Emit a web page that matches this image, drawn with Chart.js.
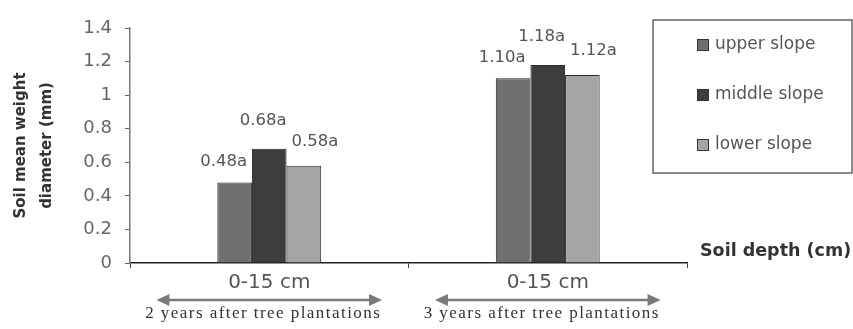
<!DOCTYPE html>
<html>
<head>
<meta charset="utf-8">
<script src="https://cdn.jsdelivr.net/npm/chart.js@4/dist/chart.umd.min.js"></script>
<style>
  html, body { margin: 0; padding: 0; background: #fff; }
  #wrap { width: 853px; height: 329px; position: relative; }
</style>
</head>
<body>
<div id="wrap"><canvas id="mwdChart"></canvas></div>
<script>
// Soil mean weight diameter by slope position
const depthLabels = ['0-15 cm', '0-15 cm'];
const periodLabels = ['2 years after tree plantations', '3 years after tree plantations'];
const seriesNames = ['upper slope', 'middle slope', 'lower slope'];
const upperSlope = [0.48, 1.10];
const middleSlope = [0.68, 1.18];
const lowerSlope = [0.58, 1.12];
const sigLetters = [['a', 'a'], ['a', 'a'], ['a', 'a']];
const yTicks = [0, 0.2, 0.4, 0.6, 0.8, 1, 1.2, 1.4];

const barColors = ['#6f6f6f', '#3d3d3d', '#a5a5a5'];
const labelShift = [[-11, 21], [-6, 28], [11, 24]]; // dx, gap above bar

// value labels above bars
const barLabels = {
    id: 'barLabels',
    afterDatasetsDraw(chart) {
        const ctx = chart.ctx;
        ctx.save();
        ctx.font = '16.5px "DejaVu Sans"';
        ctx.fillStyle = '#555';
        ctx.textAlign = 'center';
        ctx.textBaseline = 'middle';
        chart.data.datasets.forEach((ds, i) => {
            chart.getDatasetMeta(i).data.forEach((bar, j) => {
                const txt = ds.data[j].toFixed(2) + sigLetters[i][j];
                ctx.fillText(txt, bar.x + labelShift[i][0], bar.y - labelShift[i][1]);
            });
        });
        ctx.restore();
    }
};

// legend box, x title, period arrows
const extras = {
    id: 'extras',
    afterDraw(chart) {
        const ctx = chart.ctx;
        const area = chart.chartArea;
        const xs = chart.scales.x;
        ctx.save();

        // legend
        const lx = area.right - 34, ly = 20;
        ctx.strokeStyle = '#666';
        ctx.lineWidth = 1.5;
        ctx.strokeRect(lx, ly, 853 - lx - 1, 153);
        ctx.font = '17px "DejaVu Sans"';
        ctx.textBaseline = 'middle';
        ctx.textAlign = 'left';
        seriesNames.forEach((name, i) => {
            const cy = ly + 25 + i * 50;
            ctx.fillStyle = barColors[i];
            ctx.fillRect(lx + 44, cy - 6, 12, 12);
            ctx.strokeStyle = '#333';
            ctx.lineWidth = 1;
            ctx.strokeRect(lx + 44.5, cy - 5.5, 11, 11);
            ctx.fillStyle = '#555';
            ctx.fillText(name, lx + 62, cy);
        });

        // x axis title
        ctx.font = 'bold 17.5px "DejaVu Sans"';
        ctx.fillStyle = '#333';
        ctx.fillText('Soil depth (cm)', area.right + 13, area.bottom - 12);

        // arrows and period text
        const half = (xs.getPixelForValue(1) - xs.getPixelForValue(0)) * 0.405;
        periodLabels.forEach((txt, i) => {
            const cx = xs.getPixelForValue(i);
            const ay = area.bottom + 37;
            const x0 = cx - half, x1 = cx + half;
            ctx.strokeStyle = '#7a7a7a';
            ctx.fillStyle = '#7a7a7a';
            ctx.lineWidth = 2.5;
            ctx.beginPath();
            ctx.moveTo(x0 + 8, ay);
            ctx.lineTo(x1 - 8, ay);
            ctx.stroke();
            ctx.beginPath();
            ctx.moveTo(x0, ay); ctx.lineTo(x0 + 13, ay - 6); ctx.lineTo(x0 + 13, ay + 6); ctx.closePath();
            ctx.fill();
            ctx.beginPath();
            ctx.moveTo(x1, ay); ctx.lineTo(x1 - 13, ay - 6); ctx.lineTo(x1 - 13, ay + 6); ctx.closePath();
            ctx.fill();

            ctx.font = '17px "Liberation Serif"';
            ctx.fillStyle = '#333';
            ctx.textAlign = 'center';
            const w = ctx.measureText(txt).width;
            ctx.letterSpacing = Math.max(0, (236 - w) / txt.length).toFixed(2) + 'px';
            ctx.fillText(txt, cx - 6, area.bottom + 51);
            ctx.letterSpacing = '0px';
        });
        ctx.restore();
    }
};

const ctx = document.getElementById('mwdChart').getContext('2d');
new Chart(ctx, {
    type: 'bar',
    data: {
        labels: depthLabels,
        datasets: [
            { label: seriesNames[0], data: upperSlope, backgroundColor: barColors[0] },
            { label: seriesNames[1], data: middleSlope, backgroundColor: barColors[1] },
            { label: seriesNames[2], data: lowerSlope, backgroundColor: barColors[2] }
        ]
    },
    options: {
        responsive: true,
        maintainAspectRatio: false,
        animation: false,
        layout: { padding: { top: 28, right: 166, left: 0, bottom: 0 } },
        datasets: {
            bar: {
                categoryPercentage: 0.373,
                barPercentage: 1,
                borderColor: '#2a2a2a',
                borderWidth: 1,
                borderSkipped: 'bottom'
            }
        },
        plugins: {
            legend: { display: false },
            tooltip: { enabled: false }
        },
        scales: {
            x: {
                afterFit: s => { s.height = 66; },
                grid: {
                    offset: true,
                    drawOnChartArea: false,
                    tickLength: 5,
                    color: '#444'
                },
                border: { color: '#222', width: 1.5 },
                ticks: {
                    color: '#555',
                    padding: 3,
                    font: { family: 'DejaVu Sans', size: 20 }
                }
            },
            y: {
                min: 0,
                max: 1.4,
                afterFit: s => { s.width = 130; },
                afterBuildTicks: s => { s.ticks = yTicks.map(v => ({ value: v })); },
                grid: {
                    drawOnChartArea: false,
                    tickLength: 5,
                    color: '#666'
                },
                border: { color: '#777', width: 1.5 },
                ticks: {
                    color: '#666',
                    padding: 13,
                    font: { family: 'DejaVu Sans', size: 18 },
                    callback: v => String(+v.toFixed(1))
                },
                title: {
                    display: true,
                    text: ['Soil mean weight', 'diameter (mm)'],
                    color: '#333',
                    font: { family: 'DejaVu Sans', size: 15, weight: 'bold', lineHeight: 1.73 },
                    padding: { top: 8, bottom: 0 }
                }
            }
        }
    },
    plugins: [barLabels, extras]
});
</script>
</body>
</html>
